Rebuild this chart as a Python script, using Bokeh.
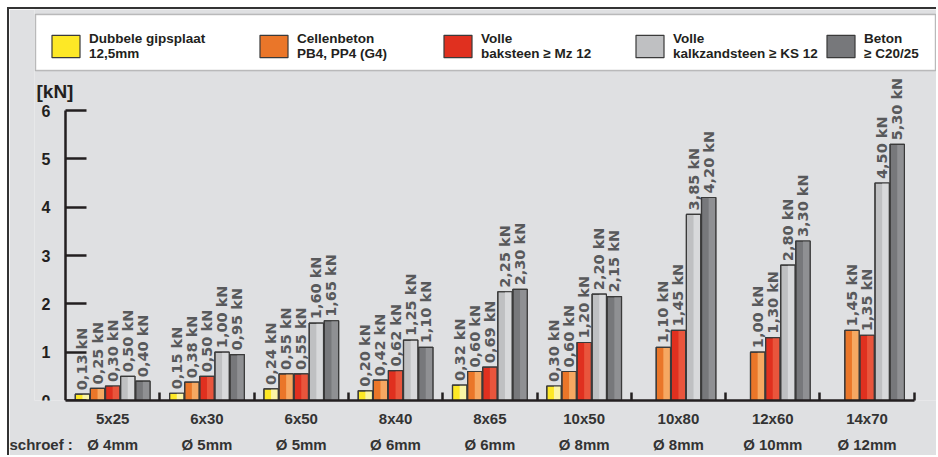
import math
from bokeh.plotting import figure
from bokeh.models import (Range1d, LinearAxis, FixedTicker, Legend, LegendItem,
                          Label, BoxAnnotation, ColumnDataSource)
from bokeh.core.properties import value
from bokeh.embed import file_html
from bokeh.resources import INLINE

nan = float("nan")

groups = ["5x25", "6x30", "6x50", "8x40", "8x65", "10x50", "10x80", "12x60", "14x70"]
screws = ["Ø 4mm", "Ø 5mm", "Ø 5mm", "Ø 6mm", "Ø 6mm", "Ø 8mm", "Ø 8mm", "Ø 10mm", "Ø 12mm"]
screw_caption = "schroef :"
y_ticks = [0, 1, 2, 3, 4, 5, 6]

gipsplaat = [0.13, 0.15, 0.24, 0.20, 0.32, 0.30, nan, nan, nan]
cellenbeton = [0.25, 0.38, 0.55, 0.42, 0.60, 0.60, 1.10, 1.00, 1.45]
baksteen = [0.30, 0.50, 0.55, 0.62, 0.69, 1.20, 1.45, 1.30, 1.35]
kalkzandsteen = [0.50, 1.00, 1.60, 1.25, 2.25, 2.20, 3.85, 2.80, 4.50]
beton = [0.40, 0.95, 1.65, 1.10, 2.30, 2.15, 4.20, 3.30, 5.30]

series_names = ["Dubbele gipsplaat\n12,5mm", "Cellenbeton\nPB4, PP4 (G4)",
                "Volle\nbaksteen ≥ Mz 12", "Volle\nkalkzandsteen ≥ KS 12",
                "Beton\n≥ C20/25"]
series_values = [gipsplaat, cellenbeton, baksteen, kalkzandsteen, beton]
base_colors = ["#fde826", "#ea7629", "#e0301f", "#bfc0c2", "#77787b"]
light_colors = ["#fbf5a6", "#f6a862", "#e9553c", "#d8d9db", "#8f9093"]

BG = "#dfe0e2"
DARK = "#231f20"

# pixel geometry
OFF = 9            # page position of the figure content (white margin + frame line)
W, H = 938 - OFF, 457 - OFF
GX = 94.3          # px per group
GY = 48.33         # px per kN
LEFT = 25          # left panel width
X0 = 65            # page x of x=0
Y0 = 400           # page y of y=0
FL = OFF + LEFT    # page x of frame left

p = figure(width=W, height=H, output_backend="svg", toolbar_location=None,
           x_range=Range1d(-(X0 - FL) / GX, (OFF + W - X0) / GX),
           y_range=Range1d(0, (Y0 - OFF) / GY),
           min_border_left=LEFT, min_border_right=0, min_border_top=0,
           min_border_bottom=OFF + H - Y0, x_axis_location=None, y_axis_location=None,
           styles={"margin-left": "7px", "margin-top": "7px",
                   "border-left": "2px solid #333333",
                   "border-top": "2px solid #333333"})
p.background_fill_color = BG
p.border_fill_color = BG
p.outline_line_color = None
p.xgrid.visible = False
p.ygrid.visible = False

# y axis drawn at x = 0
yax = LinearAxis(ticker=FixedTicker(ticks=y_ticks), bounds=(0, 6), fixed_location=0,
                 axis_line_width=2.5, axis_line_color=DARK,
                 major_tick_in=21, major_tick_out=0, major_tick_line_width=2.5,
                 major_tick_line_color=DARK, minor_tick_line_color=None,
                 major_label_text_font="Liberation Sans",
                 major_label_text_font_size="16px",
                 major_label_text_font_style="bold",
                 major_label_text_color=DARK, major_label_standoff=15)
p.add_layout(yax, "left")

centers = [i + 0.5 for i in range(len(groups))]
seps = [i + 1 for i in range(len(groups))]
xax = LinearAxis(ticker=FixedTicker(ticks=centers, minor_ticks=seps),
                 bounds=(0, len(groups)), axis_line_width=2.5, axis_line_color=DARK,
                 major_tick_line_color=None, major_tick_in=0, major_tick_out=0,
                 minor_tick_in=8, minor_tick_out=0,
                 minor_tick_line_width=2.5, minor_tick_line_color=DARK,
                 major_label_overrides={c: g for c, g in zip(centers, groups)},
                 major_label_text_font="Liberation Sans",
                 major_label_text_font_size="15px",
                 major_label_text_font_style="bold",
                 major_label_text_color="#333333", major_label_standoff=9)
p.add_layout(xax, "below")

cap_x = (40 - X0) / GX
xax2 = LinearAxis(ticker=FixedTicker(ticks=[cap_x] + centers),
                  axis_line_color=None, major_tick_line_color=None,
                  major_tick_in=0, major_tick_out=0, minor_tick_line_color=None,
                  major_label_overrides={**{cap_x: screw_caption},
                                         **{c: s for c, s in zip(centers, screws)}},
                  major_label_text_font="Liberation Sans",
                  major_label_text_font_size="15px",
                  major_label_text_font_style="bold",
                  major_label_text_color="#333333", major_label_standoff=6)
p.add_layout(xax2, "below")

# legend white box
box = BoxAnnotation(left=(FL + 1 - X0) / GX, right=(935 - X0) / GX,
                    bottom=(Y0 - 70) / GY, top=(Y0 - 14) / GY,
                    fill_color="white", fill_alpha=1.0, line_color="#3a3a3a",
                    line_width=1.5)
p.add_layout(box)

pitch = 15.1 / GX
bw = 14.3 / GX
renderers = []
for k, (vals, col, lcol) in enumerate(zip(series_values, base_colors, light_colors)):
    keep = [i for i, v in enumerate(vals) if not math.isnan(v)]
    xs = [centers[i] + (k - 2) * pitch for i in keep]
    src = ColumnDataSource(dict(
        x=xs,
        xh=[x + bw / 4 for x in xs],
        top=[vals[i] for i in keep],
        lab=[f"{vals[i]:.2f}".replace(".", ",") + " kN" for i in keep]))
    r = p.vbar(x="x", top="top", bottom=0, width=bw, source=src, fill_color=col,
               line_color="#3a3a3a", line_width=1.2)
    p.vbar(x="xh", top="top", bottom=0, width=bw / 2, source=src, fill_color=lcol,
           line_color=None)
    p.vbar(x="x", top="top", bottom=0, width=bw, source=src, fill_color=None,
           line_color="#3a3a3a", line_width=1.2)
    p.text(x="x", y="top", text="lab", source=src, angle=math.pi / 2,
           text_align="left", text_baseline="middle", y_offset=-4,
           text_font=value("DejaVu Sans"), text_font_style="bold",
           text_font_size="14.5px", text_color="#58595b")
    renderers.append(r)

leg_x = [48, 256, 440, 632, 823]
for r, name, lx in zip(renderers, series_names, leg_x):
    leg = Legend(items=[LegendItem(label=name, renderers=[r])],
                 location=(lx - FL, Y0 - 61),
                 orientation="horizontal", glyph_width=35, glyph_height=28,
                 label_standoff=6, padding=0, margin=0, spacing=0,
                 border_line_color=None, background_fill_alpha=0,
                 label_text_font="Liberation Sans",
                 label_text_font_size="13.5px", label_text_font_style="bold",
                 label_text_color="#231f20", label_text_line_height=1.1)
    p.add_layout(leg)

p.add_layout(Label(x=(FL + 2 - X0) / GX, y=(Y0 - 91) / GY, text="[kN]",
                   text_baseline="middle", text_font="Liberation Sans",
                   text_font_size="19px", text_font_style="bold", text_color=DARK))

open("out.html", "w").write(file_html(p, INLINE))
